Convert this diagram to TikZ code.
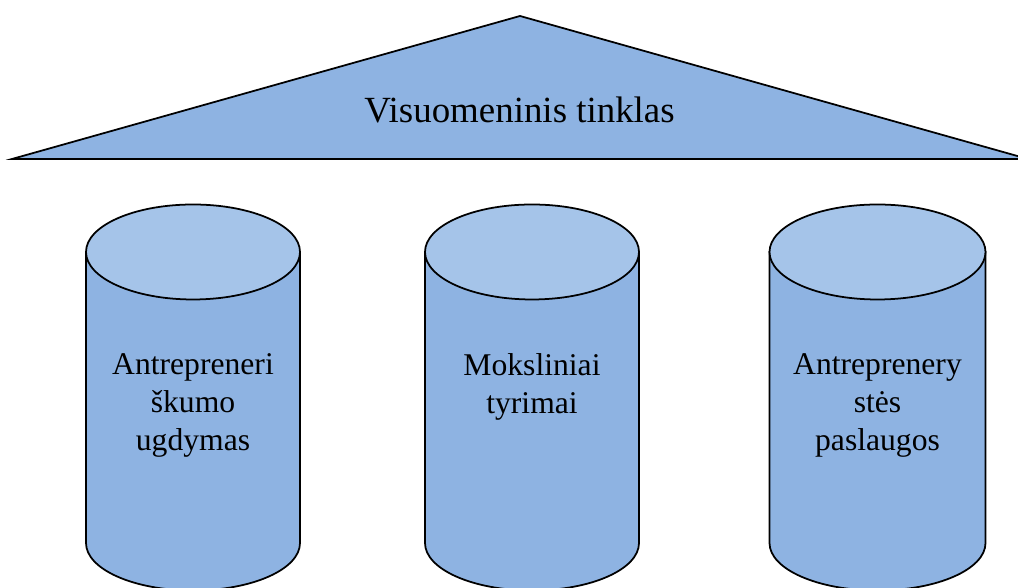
\documentclass[tikz,border=0pt]{standalone}
\usepackage{fontspec}
\setmainfont{Liberation Serif}
\definecolor{kunas}{RGB}{142,179,226}
\definecolor{dangtis}{RGB}{165,196,233}
\begin{document}
\begin{tikzpicture}[
  stogas/.style={draw=black, line width=1pt, fill=kunas},
  cylkunas/.style={draw=black, line width=1pt, fill=kunas},
  cyldangtis/.style={draw=black, line width=1pt, fill=dangtis},
  didelis/.style={font=\fontsize{21}{25}\selectfont, anchor=base, inner sep=0pt},
  tekstas/.style={font=\fontsize{18}{21.6}\selectfont, align=center, anchor=north, inner sep=0pt}]
  \useasboundingbox (0,0) rectangle (20.36,11.76);
  \clip (0,0) rectangle (20.36,11.76);

  \draw[stogas]  (0.24,8.58) -- (10.40,11.44) -- (20.56,8.58) -- cycle; %上の三角形
  \node[didelis] (tinklas) at (10.39,9.30) {Visuomeninis tinklas};

  \draw[cylkunas]  (1.72,6.72) -- (1.72,0.90) arc[start angle=180, end angle=360, x radius=2.14, y radius=0.95] -- (6.00,6.72) -- cycle;
  \draw[cyldangtis]  (3.86,6.72) ellipse [x radius=2.14, y radius=0.95]; %左の円柱
  \node[tekstas] (ugdymas) at (3.86,4.70) {Antrepreneri\\škumo\\ugdymas};

  \draw[cylkunas]  (8.50,6.72) -- (8.50,0.90) arc[start angle=180, end angle=360, x radius=2.14, y radius=0.95] -- (12.78,6.72) -- cycle;
  \draw[cyldangtis]  (10.64,6.72) ellipse [x radius=2.14, y radius=0.95]; %中央の円柱
  \node[tekstas] (tyrimai) at (10.64,4.70) {Moksliniai\\tyrimai};

  \draw[cylkunas]  (15.39,6.72) -- (15.39,0.90) arc[start angle=180, end angle=360, x radius=2.16, y radius=0.95] -- (19.71,6.72) -- cycle;
  \draw[cyldangtis]  (17.55,6.72) ellipse [x radius=2.16, y radius=0.95]; %右の円柱
  \node[tekstas] (paslaugos) at (17.55,4.70) {Antreprenery\\stės\\paslaugos};
\end{tikzpicture}
\end{document}
